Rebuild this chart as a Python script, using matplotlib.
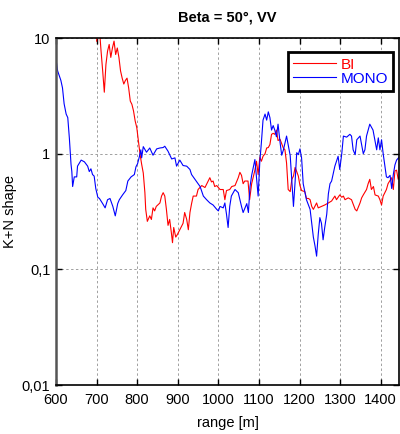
import numpy as np
import matplotlib
matplotlib.use('Agg')
import matplotlib.pyplot as plt
from matplotlib.ticker import NullLocator

plt.rcParams['font.family'] = ['Liberation Sans', 'DejaVu Sans']

# %% datos: distancia [m] y forma K+N
x_bi = [700, 703, 707, 711, 715, 719, 723, 727, 731, 735, 739, 743, 747, 751, 755,
        759, 763, 767, 771, 775, 779, 783, 787, 791, 795, 799, 803, 807, 811, 815,
        819, 821, 825, 831, 835, 839, 843, 847, 856, 860, 864, 868, 872, 876, 880,
        884, 887, 890, 895, 899, 905, 913, 917, 922, 926, 930, 934, 938, 946, 950,
        959, 967, 975, 979, 983, 987, 991, 996, 1004, 1012, 1016, 1020, 1028, 1033,
        1041, 1049, 1053, 1057, 1061, 1065, 1073, 1077, 1082, 1090, 1094, 1098,
        1102, 1106, 1110, 1115, 1119, 1123, 1127, 1131, 1135, 1139, 1143, 1147,
        1152, 1156, 1160, 1164, 1168, 1172, 1177, 1181, 1185, 1189, 1193, 1197,
        1201, 1205, 1213, 1217, 1222, 1226, 1230, 1234, 1242, 1246, 1254, 1262,
        1271, 1279, 1287, 1291, 1299, 1304, 1308, 1312, 1320, 1328, 1337, 1341,
        1349, 1353, 1357, 1365, 1369, 1373, 1377, 1382, 1386, 1394, 1398, 1402,
        1406, 1414, 1418, 1427, 1431, 1435, 1439, 1443, 1447]
y_bi = [9.4, 11.5, 12.0, 7.7, 5.2, 3.4, 5.9, 7.7, 8.8, 6.8, 8.2, 9.4, 7.2, 8.2, 6.8,
        5.2, 4.5, 4.0, 4.3, 4.5, 3.7, 2.85, 2.67, 2.34, 1.92, 1.68, 1.29, 0.99, 0.81, 0.68,
        0.46, 0.33, 0.26, 0.29, 0.27, 0.34, 0.32, 0.35, 0.375, 0.43, 0.46, 0.43, 0.33, 0.24, 0.27,
        0.21, 0.17, 0.23, 0.19, 0.20, 0.22, 0.25, 0.31, 0.27, 0.22, 0.31, 0.37, 0.43, 0.43, 0.49,
        0.53, 0.51, 0.58, 0.62, 0.57, 0.58, 0.52, 0.53, 0.49, 0.49, 0.40, 0.48, 0.49, 0.52,
        0.53, 0.62, 0.69, 0.65, 0.55, 0.58, 0.58, 0.40, 0.55, 0.72, 0.86, 0.66,
        0.93, 0.86, 0.95, 1.0, 1.12, 1.13, 1.2, 1.47, 1.5, 1.47, 1.6, 1.3,
        1.33, 1.22, 1.12, 1.08, 0.83, 0.49, 0.47, 0.60, 0.64, 0.76, 0.70, 0.64,
        0.53, 0.48, 0.47, 0.41, 0.41, 0.40, 0.35, 0.33, 0.375, 0.34, 0.35, 0.36,
        0.375, 0.39, 0.43, 0.40, 0.44, 0.42, 0.43, 0.40, 0.415, 0.40, 0.33, 0.32,
        0.375, 0.415, 0.44, 0.49, 0.55, 0.60, 0.49, 0.52, 0.44, 0.43, 0.40, 0.36,
        0.43, 0.49, 0.55, 0.62, 0.49, 0.71, 0.72, 0.60, 0.65]

x_mono = [600, 604, 612, 616, 620, 625, 629, 633, 637, 639, 641, 645, 651, 653, 662,
          670, 678, 682, 686, 690, 694, 698, 703, 707, 715, 721, 727, 733, 740, 746,
          752, 756, 764, 772, 777, 785, 793, 797, 801, 805, 809, 811, 815, 823, 831,
          839, 848, 856, 864, 868, 876, 885, 893, 897, 905, 913, 922, 930, 934, 938,
          942, 950, 955, 963, 971, 979, 987, 996, 1000, 1004, 1012, 1016, 1020, 1024,
          1028, 1032, 1041, 1049, 1057, 1061, 1070, 1074, 1078, 1082, 1090, 1098,
          1102, 1106, 1110, 1115, 1119, 1123, 1127, 1131, 1135, 1139, 1143, 1147,
          1152, 1156, 1160, 1168, 1177, 1185, 1189, 1193, 1197, 1201, 1205, 1209,
          1217, 1226, 1230, 1234, 1238, 1242, 1246, 1250, 1254, 1258, 1262, 1267,
          1271, 1275, 1279, 1287, 1295, 1299, 1304, 1308, 1316, 1324, 1328, 1332,
          1337, 1341, 1349, 1357, 1361, 1365, 1373, 1381, 1390, 1394, 1398, 1402,
          1406, 1414, 1418, 1423, 1427, 1431, 1435, 1439, 1447]
y_mono = [6.6, 5.2, 4.3, 3.7, 2.7, 2.2, 2.05, 1.35, 0.81, 0.70, 0.52, 0.63, 0.63, 0.78, 0.88,
          0.85, 0.78, 0.70, 0.74, 0.66, 0.64, 0.50, 0.42, 0.41, 0.37, 0.34, 0.40, 0.41, 0.35, 0.29,
          0.37, 0.40, 0.44, 0.48, 0.58, 0.63, 0.66, 0.77, 0.82, 0.93, 1.08, 0.92, 1.15, 1.03, 1.12,
          0.97, 1.1, 1.12, 1.13, 1.16, 1.05, 0.90, 0.92, 0.78, 0.88, 0.79, 0.78, 0.73, 0.66, 0.63,
          0.60, 0.55, 0.52, 0.43, 0.40, 0.375, 0.36, 0.33, 0.32, 0.35, 0.34, 0.375, 0.30, 0.23,
          0.35, 0.43, 0.49, 0.46, 0.35, 0.31, 0.37, 0.31, 0.52, 0.65, 0.89, 0.43,
          0.84, 1.25, 1.95, 2.2, 1.95, 2.3, 2.05, 1.6, 1.75, 1.6, 1.40, 1.8,
          1.25, 0.97, 1.07, 1.42, 0.96, 0.35, 0.57, 1.02, 0.98, 1.1, 0.92, 0.55,
          0.40, 0.33, 0.25, 0.19, 0.16, 0.13, 0.20, 0.28, 0.25, 0.18, 0.23, 0.30,
          0.45, 0.55, 0.58, 0.78, 0.95, 0.73, 1.0, 1.42, 1.39, 1.47, 1.42, 1.08,
          0.98, 1.32, 1.42, 1.0, 1.08, 1.42, 1.8, 1.6, 1.08, 1.37, 1.08, 1.32,
          1.0, 0.63, 0.62, 0.65, 0.50, 0.66, 0.80, 0.88, 0.95]

xticks = [600, 700, 800, 900, 1000, 1100, 1200, 1300, 1400]
yticks = [0.01, 0.1, 1, 10]
ytick_labels = ['0,01', '0,1', '1', '10']

# %% grafico
fig = plt.figure(figsize=(4.0, 4.34), dpi=100)
ax = fig.add_axes([0.14, 0.1129, 0.8575, 0.7995])

ax.plot(x_bi, y_bi, color='red', linewidth=0.8, label='BI')
ax.plot(x_mono, y_mono, color='blue', linewidth=0.8, label='MONO')

ax.set_yscale('log')
ax.set_xlim(600, 1445)
ax.set_ylim(0.01, 10)
ax.set_xticks(xticks)
ax.set_yticks(yticks)
ax.set_yticklabels(ytick_labels)
ax.yaxis.set_minor_locator(NullLocator())

ax.grid(True, color='#a0a0a0', linestyle=(0, (2.5, 2.5)), linewidth=0.7)
ax.tick_params(direction='in', length=4, width=1.0, top=True, right=True,
               labelsize=10.5, color='black')
ax.tick_params(axis='x', pad=6)
ax.tick_params(axis='y', pad=4)
for s in ax.spines.values():
    s.set_linewidth(1.2)
ax.spines['left'].set_color('#555555')
ax.spines['left'].set_linewidth(1.8)

ax.set_title('Beta = 50°, VV', fontsize=10.5, fontweight='bold', pad=12)
ax.set_xlabel('range [m]', fontsize=10.5, labelpad=6)
ax.set_ylabel('K+N shape', fontsize=10.5)
ax.yaxis.set_label_coords(-0.115, 0.5)

leg = ax.legend(loc='upper right', bbox_to_anchor=(0.983, 0.959), borderaxespad=0,
                fontsize=11, fancybox=False, framealpha=1, edgecolor='black',
                handlelength=2.8, handletextpad=0.3, labelspacing=0.0,
                borderpad=0.35, labelcolor='linecolor')
leg.get_frame().set_linewidth(2)

fig.savefig('out.png', dpi=100)
